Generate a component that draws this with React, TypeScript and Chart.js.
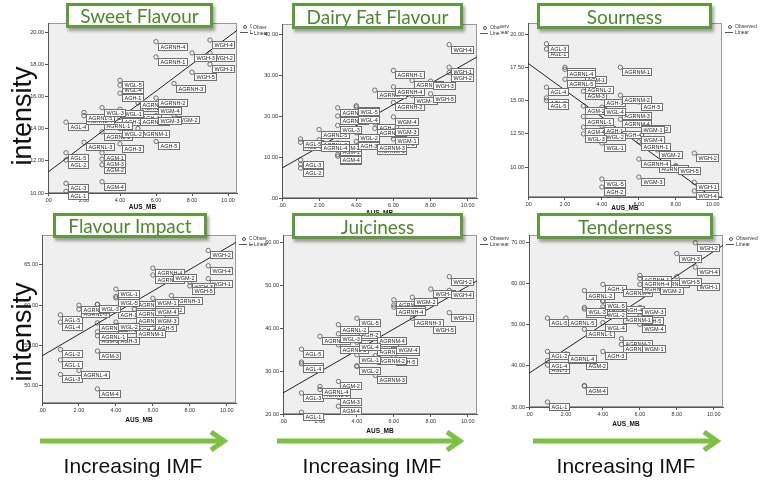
import React, { useEffect, useRef } from "react";
import { Chart, registerables } from "chart.js";
Chart.register(...registerables);

const FONT = '"Liberation Sans", Arial, sans-serif';

// ---- data ----
const SAMPLES = [
  "AGL-1", "AGL-2", "AGL-3", "AGL-4", "AGL-5",
  "AGM-1", "AGM-2", "AGM-3", "AGM-4",
  "AGH-1", "AGH-2", "AGH-3", "AGH-4", "AGH-5",
  "AGRNL-1", "AGRNL-2", "AGRNL-3", "AGRNL-4", "AGRNL-5",
  "AGRNM-1", "AGRNM-2", "AGRNM-3", "AGRNM-4",
  "AGRNH-1", "AGRNH-2", "AGRNH-3", "AGRNH-4",
  "WGL-1", "WGL-2", "WGL-3", "WGL-4", "WGL-5",
  "WGM-1", "WGM-2", "WGM-3", "WGM-4",
  "WGH-1", "WGH-2", "WGH-3", "WGH-4", "WGH-5",
];
const AUS_MB = [
  1, 1, 1, 1, 1,
  3, 3, 3, 3,
  4, 4, 4, 5, 6,
  3, 3, 2, 2, 2,
  5, 5, 5, 5,
  6, 6, 7, 6,
  4, 4, 3, 4, 4,
  6, 7, 6, 6,
  9, 9, 8, 9, 8,
];
const SWEET = [
  10.1, 12.05, 10.6, 14.4, 12.5,
  12.5, 11.75, 12.1, 10.7,
  16.2, 14.7, 13.05, 15.0, 13.2,
  14.45, 13.8, 13.15, 14.8, 15.0,
  14.0, 14.7, 15.6, 15.8,
  18.45, 15.9, 16.8, 19.4,
  15.2, 14.0, 15.3, 16.7, 17.0,
  15.4, 14.85, 14.8, 15.4,
  18.0, 18.7, 18.7, 19.5, 17.5,
];
const DAIRY = [
  8.2, 7.3, 9.3, 13.6, 14.4,
  12.4, 13.4, 10.2, 10.6,
  20.3, 22.5, 13.8, 18.3, 14.4,
  22.0, 20.0, 14.2, 13.4, 16.7,
  12.6, 17.0, 13.3, 26.3,
  31.1, 23.3, 28.7, 27.1,
  20.3, 15.9, 17.7, 20.3, 22.2,
  15.2, 25.0, 17.2, 19.8,
  31.9, 30.6, 28.5, 37.4, 25.4,
];
const SOUR = [
  18.87, 15.2, 19.27, 16.0, 15.0,
  16.9, 14.6, 15.7, 13.0,
  13.1, 8.5, 15.2, 12.8, 14.9,
  13.8, 16.2, 17.5, 17.35, 16.6,
  17.5, 15.4, 14.2, 13.6,
  11.9, 13.2, 10.25, 10.6,
  11.8, 12.6, 12.5, 14.5, 9.1,
  13.15, 11.3, 9.25, 12.4,
  8.85, 11.05, 10.1, 8.2, 10.05,
];
const IMPACT = [
  53.2, 54.5, 51.4, 57.9, 58.8,
  60.1, 56.2, 54.3, 49.6,
  59.4, 57.5, 56.2, 57.5, 57.8,
  56.7, 57.8, 59.5, 51.9, 60.0,
  57.1, 58.6, 60.6, 59.5,
  63.75, 60.0, 61.2, 64.6,
  62.0, 57.9, 60.1, 61.1, 60.9,
  60.85, 64.0, 58.6, 59.8,
  63.3, 66.8, 62.9, 64.9, 62.4,
];
const JUICY = [
  20.4, 32.1, 24.9, 31.7, 35.1,
  23.9, 27.6, 24.0, 21.8,
  39.2, 39.5, 31.2, 37.8, 33.3,
  36.1, 40.8, 25.7, 26.4, 38.1,
  35.7, 33.6, 29.0, 38.1,
  46.6, 45.4, 42.3, 44.9,
  33.8, 31.1, 38.7, 36.7, 42.3,
  35.6, 47.2, 35.5, 36.0,
  43.6, 52.0, 49.1, 48.8, 40.8,
];
const TENDER = [
  31.2, 43.5, 40.2, 41.3, 51.6,
  53.8, 41.3, 35.2, 35.1,
  59.8, 54.3, 43.5, 54.8, 52.1,
  48.9, 58.3, 42.7, 42.9, 51.6,
  52.4, 46.6, 45.2, 58.9,
  62.0, 59.8, 61.1, 61.2,
  55.8, 53.6, 54.2, 50.5, 55.7,
  45.2, 59.5, 54.2, 50.1,
  60.3, 69.9, 67.3, 64.0, 61.7,
];

const FIT_X = [0, 10.5];
const SWEET_FIT = [11.3, 20.1];
const DAIRY_FIT = [7.3, 34.4];
const SOUR_FIT = [17.8, 7.2];
const IMPACT_FIT = [53.7, 67.8];
const JUICY_FIT = [24.9, 51.0];
const TENDER_FIT = [38.2, 69.3];

const X_TICKS = [0, 2, 4, 6, 8, 10];
const SWEET_TICKS = [10, 12, 14, 16, 18, 20];
const DAIRY_TICKS = [0, 10, 20, 30, 40];
const SOUR_TICKS = [10, 12.5, 15, 17.5, 20];
const IMPACT_TICKS = [50, 55, 60, 65];
const JUICY_TICKS = [20, 30, 40, 50, 60];
const TENDER_TICKS = [30, 40, 50, 60, 70];

const TITLES = ["Sweet Flavour", "Dairy Fat Flavour", "Sourness", "Flavour Impact", "Juiciness", "Tenderness"];

// ---- layout ----
const PANELS = [
  { title: 0, values: SWEET, fit: SWEET_FIT, ticks: SWEET_TICKS, yMin: 10, yMax: 20.56,
    x0: 0, y0: 0, w: 252, h: 215, L: 48, R: 237, T: 23, B: 193, xTitleY: 207, stub: "none",
    box: { x: 66, y: 3, w: 147, h: 25 } },
  { title: 1, values: DAIRY, fit: DAIRY_FIT, ticks: DAIRY_TICKS, yMin: 0, yMax: 42.44,
    x0: 250, y0: 0, w: 250, h: 218, L: 282, R: 477, T: 24, B: 198, xTitleY: 213, stub: "left",
    box: { x: 292, y: 3, w: 171, h: 26 } },
  { title: 2, values: SOUR, fit: SOUR_FIT, ticks: SOUR_TICKS, yMin: 7.75, yMax: 20.83,
    x0: 500, y0: 0, w: 263, h: 215, L: 528, R: 722, T: 23, B: 197, xTitleY: 208, stub: "cut",
    box: { x: 537, y: 3, w: 175, h: 26 } },
  { title: 3, values: IMPACT, fit: IMPACT_FIT, ticks: IMPACT_TICKS, yMin: 47.85, yMax: 68.72,
    x0: 0, y0: 210, w: 252, h: 226, L: 42, R: 236, T: 235, B: 403, xTitleY: 420, stub: "none",
    box: { x: 53, y: 213, w: 154, h: 25 } },
  { title: 4, values: JUICY, fit: JUICY_FIT, ticks: JUICY_TICKS, yMin: 20, yMax: 61.7,
    x0: 250, y0: 210, w: 250, h: 228, L: 283, R: 477, T: 235, B: 414, xTitleY: 431, stub: "left",
    box: { x: 292, y: 213, w: 171, h: 26 } },
  { title: 5, values: TENDER, fit: TENDER_FIT, ticks: TENDER_TICKS, yMin: 30, yMax: 71.8,
    x0: 500, y0: 210, w: 263, h: 226, L: 529, R: 723, T: 235, B: 407, xTitleY: 424, stub: "cut",
    box: { x: 537, y: 213, w: 176, h: 26 } },
];

const ARROWS = [
  { x1: 40, x2: 226, y: 441 },
  { x1: 277, x2: 462, y: 441 },
  { x1: 533, x2: 719, y: 441 },
];
const IMF_CENTERS = [133, 372, 626];

function fmt(v: number) {
  return v === 0 ? ".00" : Number(v).toFixed(2);
}

function PanelChart({ p }: { p: any }) {
  const ref = useRef<HTMLCanvasElement>(null);
  useEffect(() => {
    const canvas = ref.current!;
    const decor = {
      id: "spssDecor",
      beforeDraw(chart: any) {
        const { ctx, chartArea: a } = chart;
        ctx.save();
        ctx.fillStyle = "#efefef";
        ctx.fillRect(a.left, a.top, a.right - a.left, a.bottom - a.top);
        ctx.strokeStyle = "#9a9a9a";
        ctx.lineWidth = 1;
        ctx.strokeRect(Math.round(a.left) + 0.5, Math.round(a.top) + 0.5,
          Math.round(a.right - a.left) - 1, Math.round(a.bottom - a.top) - 1);
        ctx.restore();
      },
      afterDatasetsDraw(chart: any) {
        const { ctx, chartArea: a } = chart;
        const meta = chart.getDatasetMeta(1);
        ctx.save();
        ctx.font = `5.5px ${FONT}`;
        ctx.textBaseline = "middle";
        ctx.lineWidth = 1;
        meta.data.forEach((el: any, i: number) => {
          const txt = SAMPLES[i];
          const w = Math.round(ctx.measureText(txt).width + 4);
          const h = 7;
          const bx = Math.round(el.x + 2) + 0.5;
          const by = Math.round(el.y + 1) + 0.5;
          ctx.fillStyle = "#ffffff";
          ctx.fillRect(bx, by, w, h);
          ctx.strokeStyle = "#707070";
          ctx.strokeRect(bx, by, w, h);
          ctx.fillStyle = "#222";
          ctx.textAlign = "left";
          ctx.fillText(txt, bx + 2, by + h / 2 + 0.5);
        });
        // legend
        const lx = a.right;
        const ly = a.top;
        ctx.fillStyle = "#333";
        ctx.strokeStyle = "#555";
        ctx.beginPath();
        ctx.arc(lx + 8, ly + 4, 1.5, 0, Math.PI * 2);
        ctx.stroke();
        ctx.beginPath();
        ctx.moveTo(lx + 3, ly + 9.5);
        ctx.lineTo(lx + 11, ly + 9.5);
        ctx.stroke();
        ctx.font = `5px ${FONT}`;
        ctx.textAlign = "left";
        ctx.fillText("Observed", lx + 13, ly + 4);
        ctx.fillText("Linear", lx + 13, ly + 9.5);
        // stub of neighbouring legend
        if (p.stub === "left") {
          ctx.fillText("Obser", 3, ly + 4);
          ctx.beginPath();
          ctx.moveTo(0, ly + 9.5);
          ctx.lineTo(3, ly + 9.5);
          ctx.stroke();
          ctx.fillText("Linear", 4, ly + 9.5);
        } else if (p.stub === "cut") {
          ctx.textAlign = "right";
          ctx.fillText("Observ", 9, ly + 4);
          ctx.fillText("Linear", 9, ly + 9.5);
        }
        // x title
        ctx.font = `bold 6.5px ${FONT}`;
        ctx.textAlign = "center";
        ctx.fillStyle = "#111";
        ctx.fillText("AUS_MB", (a.left + a.right) / 2, p.xTitleY - p.y0);
        ctx.restore();
      },
    };

    const tickFont = { size: 5.5, family: FONT };
    const chart = new Chart(canvas, {
      type: "scatter",
      data: {
        datasets: [
          {
            data: FIT_X.map((x, i) => ({ x, y: p.fit[i] })),
            showLine: true,
            borderColor: "#222",
            borderWidth: 1,
            pointRadius: 0,
            fill: false,
          },
          {
            data: AUS_MB.map((x, i) => ({ x, y: p.values[i] })),
            pointRadius: 2.2,
            pointBorderColor: "#555",
            pointBackgroundColor: "rgba(0,0,0,0)",
            pointBorderWidth: 0.8,
          },
        ],
      },
      options: {
        animation: false,
        responsive: false,
        devicePixelRatio: 1,
        events: [],
        layout: { padding: { left: 0, top: p.T - p.y0, right: p.x0 + p.w - p.R, bottom: 0 } },
        plugins: { legend: { display: false }, tooltip: { enabled: false } },
        scales: {
          x: {
            type: "linear",
            min: 0,
            max: 10.5,
            afterBuildTicks: (s: any) => { s.ticks = X_TICKS.map((v) => ({ value: v })); },
            afterFit: (s: any) => { s.height = p.y0 + p.h - p.B; },
            ticks: { callback: (v: any) => fmt(v), font: tickFont, color: "#333", padding: 1, autoSkip: false, maxRotation: 0 },
            grid: { drawOnChartArea: false, tickLength: 3, color: "#555" },
            border: { color: "#555" },
          },
          y: {
            type: "linear",
            min: p.yMin,
            max: p.yMax,
            afterBuildTicks: (s: any) => { s.ticks = p.ticks.map((v: number) => ({ value: v })); },
            afterFit: (s: any) => { s.width = p.L - p.x0; },
            ticks: { callback: (v: any) => fmt(v), font: tickFont, color: "#333", padding: 1, autoSkip: false },
            grid: { drawOnChartArea: false, tickLength: 3, color: "#555" },
            border: { color: "#555" },
          },
        },
      },
      plugins: [decor],
    } as any);
    return () => chart.destroy();
  }, [p]);
  return (
    <canvas
      ref={ref}
      width={p.w}
      height={p.h}
      style={{ position: "absolute", left: p.x0, top: p.y0, width: p.w, height: p.h }}
    />
  );
}

export default function App() {
  return (
    <div style={{ position: "fixed", left: 0, top: 0, width: 763, height: 486, background: "#fff", overflow: "hidden" }}>
      {PANELS.map((p, i) => (
        <PanelChart key={i} p={p} />
      ))}
      {PANELS.map((p, i) => (
        <div
          key={"t" + i}
          style={{
            position: "absolute",
            left: p.box.x,
            top: p.box.y,
            width: p.box.w,
            height: p.box.h,
            boxSizing: "border-box",
            border: "3px solid #5e9c3a",
            background: "#fff",
            boxShadow: "2px 3px 3px rgba(0,0,0,0.35)",
            display: "flex",
            alignItems: "center",
            justifyContent: "center",
            color: "#4b8a2b",
            fontFamily: 'Lato, "Open Sans", sans-serif',
            fontSize: 19,
            whiteSpace: "nowrap",
            lineHeight: 1,
          }}
        >
          {TITLES[p.title]}
        </div>
      ))}
      {[116, 332].map((cy, i) => (
        <div
          key={"i" + i}
          style={{
            position: "absolute",
            left: 22,
            top: cy,
            transform: "translate(-50%, -50%) rotate(-90deg)",
            fontFamily: FONT,
            fontSize: 27,
            color: "#111",
            whiteSpace: "nowrap",
            lineHeight: 1,
          }}
        >
          intensity
        </div>
      ))}
      <svg width={763} height={486} style={{ position: "absolute", left: 0, top: 0 }}>
        {ARROWS.map((a, i) => (
          <g key={i}>
            <line x1={a.x1} y1={a.y} x2={a.x2 - 3} y2={a.y} stroke="#7cc242" strokeWidth={5} />
            <polyline
              points={`${a.x2 - 15},${a.y - 9} ${a.x2 - 2},${a.y} ${a.x2 - 15},${a.y + 9}`}
              fill="none"
              stroke="#7cc242"
              strokeWidth={5}
            />
          </g>
        ))}
      </svg>
      {IMF_CENTERS.map((cx, i) => (
        <div
          key={"m" + i}
          style={{
            position: "absolute",
            left: cx - 100,
            width: 200,
            top: 455,
            textAlign: "center",
            fontFamily: FONT,
            fontSize: 21,
            lineHeight: 1,
            color: "#111",
            whiteSpace: "nowrap",
          }}
        >
          Increasing IMF
        </div>
      ))}
    </div>
  );
}
